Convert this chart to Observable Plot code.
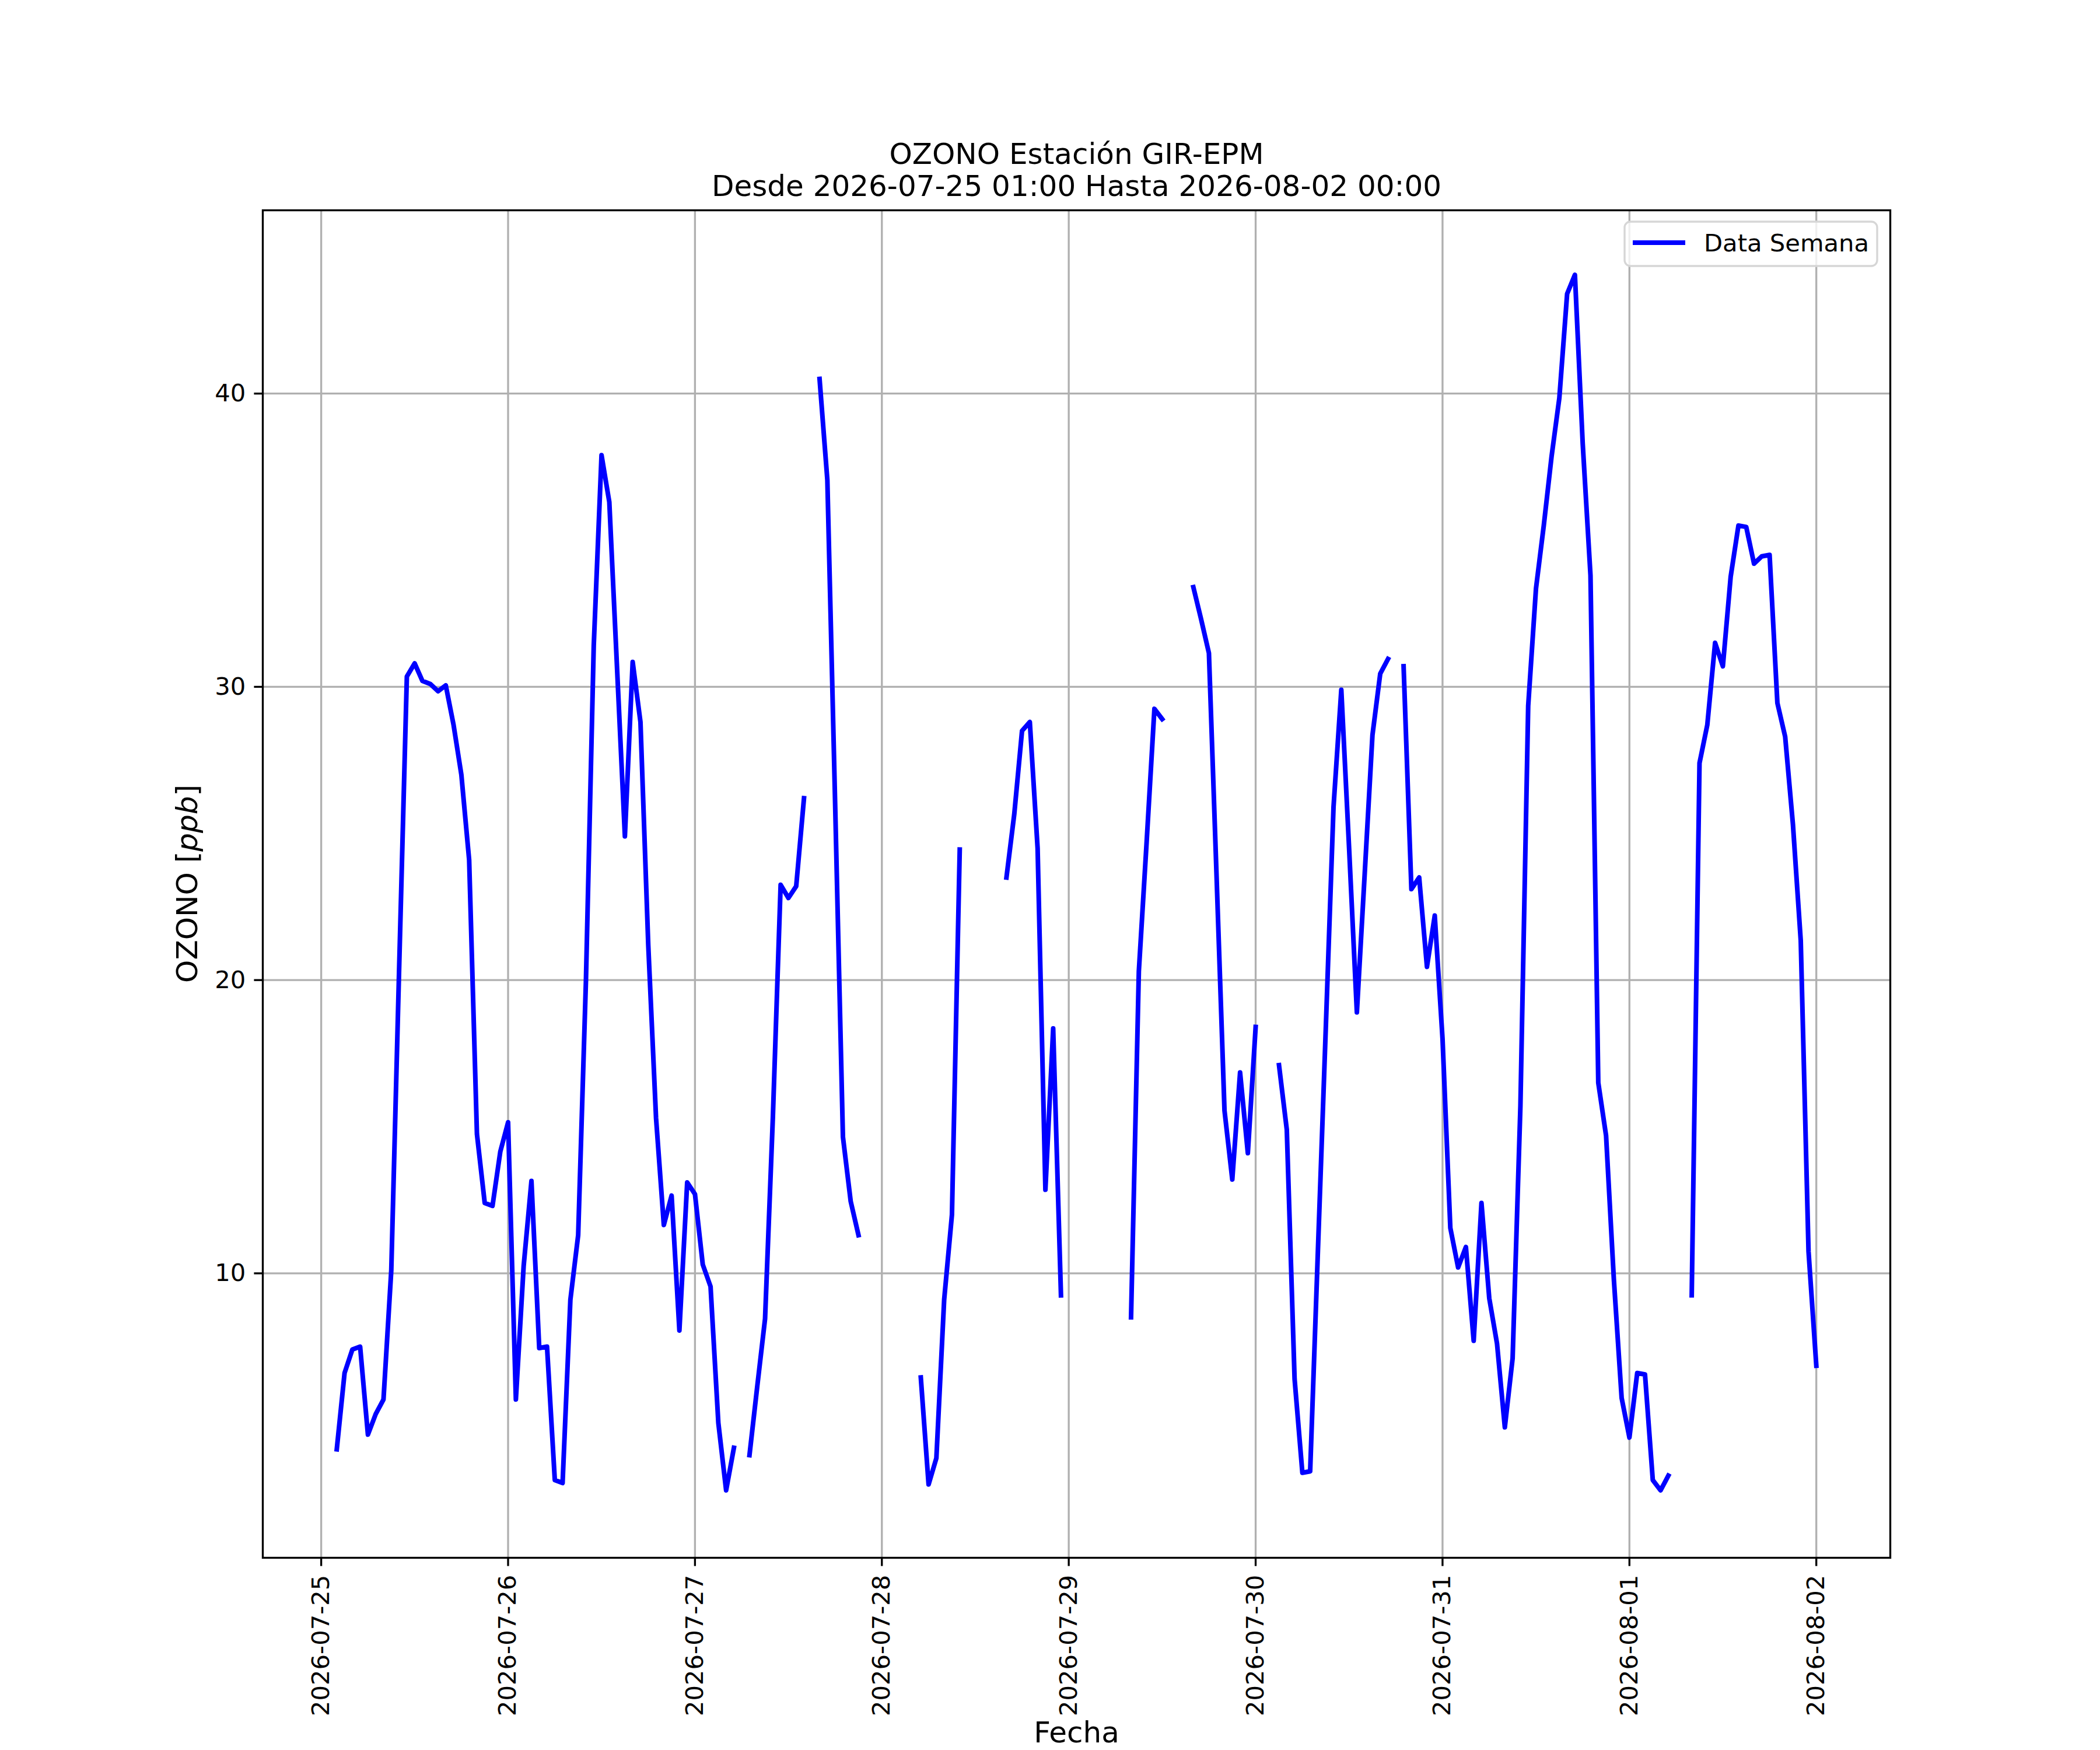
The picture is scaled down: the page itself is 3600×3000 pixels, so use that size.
<!DOCTYPE html>
<html>
<head>
<meta charset="utf-8">
<script src="https://cdn.jsdelivr.net/npm/d3@7"></script>
<script src="https://cdn.jsdelivr.net/npm/@observablehq/plot@0.6"></script>
<style>
  html, body { margin: 0; padding: 0; background: #fff; }
  #chart { width: 3600px; height: 3000px; }
</style>
</head>
<body>
<div id="chart"></div>
<script>
// Hourly ozone values (ppb); each array runs 01:00 .. 00:00 of the next day. null = missing.
const day0725 = [null, 4.0, 6.6, 7.4, 7.5, 4.5, 5.2, 5.7, 10.1, 20.3, 30.35, 30.8, 30.2, 30.1, 29.85, 30.05, 28.7, 27.0, 24.1, 14.75, 12.4, 12.3, 14.15, 15.15];
const day0726 = [5.7, 10.25, 13.15, 7.45, 7.5, 2.95, 2.85, 9.1, 11.3, 20.0, 31.4, 37.9, 36.3, 30.6, 24.9, 30.85, 28.8, 21.2, 15.3, 11.65, 12.65, 8.05, 13.1, 12.7];
const day0727 = [10.3, 9.55, 4.9, 2.6, 4.05, null, 3.8, 6.15, 8.45, 15.3, 23.25, 22.8, 23.2, 26.2, null, 40.5, 37.05, 26.0, 14.65, 12.45, 11.3, null, null, null];
const day0728 = [null, null, null, null, 6.45, 2.8, 3.7, 9.1, 12.0, 24.45, null, null, null, null, null, 23.5, 25.65, 28.5, 28.8, 24.5, 12.85, 18.35, 9.25, null];
const day0729 = [null, null, null, null, null, null, null, 8.5, 20.3, 24.7, 29.25, 28.9, null, null, null, 33.4, 32.3, 31.15, 23.4, 15.55, 13.2, 16.85, 14.1, 18.4];
const day0730 = [null, null, 17.1, 14.9, 6.4, 3.2, 3.25, 10.8, 18.3, 25.9, 29.9, 24.5, 18.9, 23.6, 28.35, 30.45, 30.95, null, 30.7, 23.1, 23.5, 20.45, 22.2, 18.0];
const day0731 = [11.55, 10.2, 10.9, 7.7, 12.4, 9.15, 7.6, 4.75, 7.1, 15.7, 29.35, 33.35, 35.5, 37.85, 39.85, 43.4, 44.05, 38.3, 33.8, 16.5, 14.7, 9.8, 5.75, 4.4];
const day0801 = [6.6, 6.55, 2.95, 2.6, 3.1, null, null, 9.25, 27.4, 28.7, 31.5, 30.7, 33.75, 35.5, 35.45, 34.2, 34.45, 34.5, 29.45, 28.3, 25.3, 21.35, 10.75, 6.85];

const seriesStart = "2026-07-25T01:00:00Z";
const xTickLabels = ["2026-07-25", "2026-07-26", "2026-07-27", "2026-07-28", "2026-07-29", "2026-07-30", "2026-07-31", "2026-08-01", "2026-08-02"];
const yTicks = [10, 20, 30, 40];
const titleLine1 = "OZONO Estación GIR-EPM";
const titleLine2 = "Desde 2026-07-25 01:00 Hasta 2026-08-02 00:00";
const xLabel = "Fecha";
const seriesName = "Data Semana";

// Build table
const days = [day0725, day0726, day0727, day0728, day0729, day0730, day0731, day0801];
const t0 = new Date(seriesStart).getTime();
const rows = [];
days.forEach((arr, d) => arr.forEach((v, h) => {
  rows.push({time: new Date(t0 + (d * 24 + h) * 3600e3), value: v == null ? NaN : v});
}));
const tickDates = xTickLabels.map(s => new Date(s + "T00:00:00Z"));

const FONT = "DejaVu Sans";
const LW = 8;
const chart = Plot.plot({
  width: 3600,
  height: 3000,
  marginLeft: 450,
  marginRight: 360,
  marginTop: 360,
  marginBottom: 330,
  style: {fontFamily: FONT, fontSize: "41.7px", background: "#fff", color: "#000", overflow: "visible"},
  x: {type: "utc", domain: [new Date("2026-07-24T16:30:00Z"), new Date("2026-08-02T09:30:00Z")]},
  y: {domain: [0.30, 46.25]},
  marks: [
    Plot.gridX(tickDates, {stroke: "#b0b0b0", strokeOpacity: 1, strokeWidth: 3.33}),
    Plot.gridY(yTicks, {stroke: "#b0b0b0", strokeOpacity: 1, strokeWidth: 3.33}),
    Plot.line(rows, {x: "time", y: "value", stroke: "#0000ff", strokeWidth: LW, strokeLinejoin: "round", strokeLinecap: "square"}),
    Plot.frame({stroke: "#000", strokeWidth: 3.33}),
    Plot.axisX(tickDates, {tickFormat: d3.utcFormat("%Y-%m-%d"), tickRotate: -90, tickSize: 14.6, tickPadding: 14.6, fontSize: 41.7, strokeWidth: 3.33, label: null}),
    Plot.axisY(yTicks, {tickFormat: d => String(d), tickSize: 14.6, tickPadding: 14.6, fontSize: 41.7, strokeWidth: 3.33, label: null}),
    Plot.text([titleLine1], {frameAnchor: "top", dy: -80, lineAnchor: "bottom", fontSize: 50, text: d => d}),
    Plot.text([titleLine2], {frameAnchor: "top", dy: -25, lineAnchor: "bottom", fontSize: 50, text: d => d}),
    Plot.text([xLabel], {frameAnchor: "bottom", dy: 316, lineAnchor: "bottom", fontSize: 50, text: d => d})
  ]
});

const svg = d3.select(chart);
// Y label with italic unit (mathtext style)
const yl = svg.append("text")
  .attr("transform", "translate(338,1515) rotate(-90)")
  .attr("text-anchor", "middle")
  .attr("font-family", FONT)
  .attr("font-size", 50)
  .attr("fill", "#000");
yl.append("tspan").text("OZONO [");
yl.append("tspan").attr("font-style", "italic").text("ppb");
yl.append("tspan").text("]");

// Legend (inside the axes, upper right)
const lg = svg.append("g").attr("text-anchor", "start");
lg.append("rect").attr("x", 2785).attr("y", 380).attr("width", 433).attr("height", 76)
  .attr("rx", 10).attr("fill", "#fff").attr("fill-opacity", 0.8)
  .attr("stroke", "#d6d6d6").attr("stroke-width", 3.33);
lg.append("line").attr("x1", 2799).attr("x2", 2889).attr("y1", 416).attr("y2", 416)
  .attr("stroke", "#0000ff").attr("stroke-width", LW).attr("stroke-linecap", "butt");
lg.append("text").attr("x", 2921).attr("y", 430.5).attr("text-anchor", "start")
  .attr("font-family", FONT).attr("font-size", 41.7).attr("fill", "#000").text(seriesName);

document.getElementById("chart").appendChild(chart);
</script>
</body>
</html>
